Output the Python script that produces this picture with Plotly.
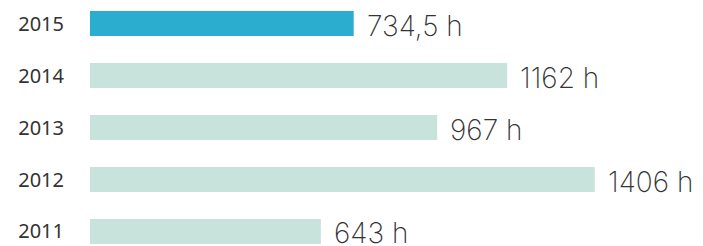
import plotly.graph_objects as go

years = ["2011", "2012", "2013", "2014", "2015"]
hours = [643, 1406, 967, 1162, 734.5]
bar_colors = ["#c7e3dc", "#c7e3dc", "#c7e3dc", "#c7e3dc", "#2badcf"]


def fmt(v):
    s = ("%g" % v).replace(".", ",")
    return s + " h"


value_labels = [fmt(v) for v in hours]

fig = go.Figure(
    go.Bar(
        x=hours,
        y=years,
        orientation="h",
        marker=dict(color=bar_colors, line=dict(width=0)),
        width=0.481,
        hoverinfo="skip",
    )
)

for i, (v, t) in enumerate(zip(hours, value_labels)):
    fig.add_annotation(
        x=v, y=i, xref="x", yref="y", text=t, showarrow=False,
        xanchor="left", yanchor="middle",
        xshift=11, yshift=-2,
        font=dict(family="Inter", size=28, color="#333333", weight=200),
    )

fig.update_layout(
    width=703, height=246,
    margin=dict(l=90, r=0, t=0, b=0, autoexpand=False),
    paper_bgcolor="white", plot_bgcolor="white",
    showlegend=False,
    xaxis=dict(range=[0, 1707.5], visible=False, fixedrange=True),
    yaxis=dict(
        type="category", categoryorder="array", categoryarray=years,
        range=[-0.279, 4.452], showgrid=False, zeroline=False, showline=False,
        ticks="outside", ticklen=0, ticklabelstandoff=21,
        tickfont=dict(family="Noto Sans", size=20, color="#333333", weight=400),
        fixedrange=True,
    ),
)

fig.write_html(
    "out.html",
    config={"displayModeBar": False, "staticPlot": True},
    post_script="document.body.style.margin='0';document.body.style.overflow='hidden';",
)
